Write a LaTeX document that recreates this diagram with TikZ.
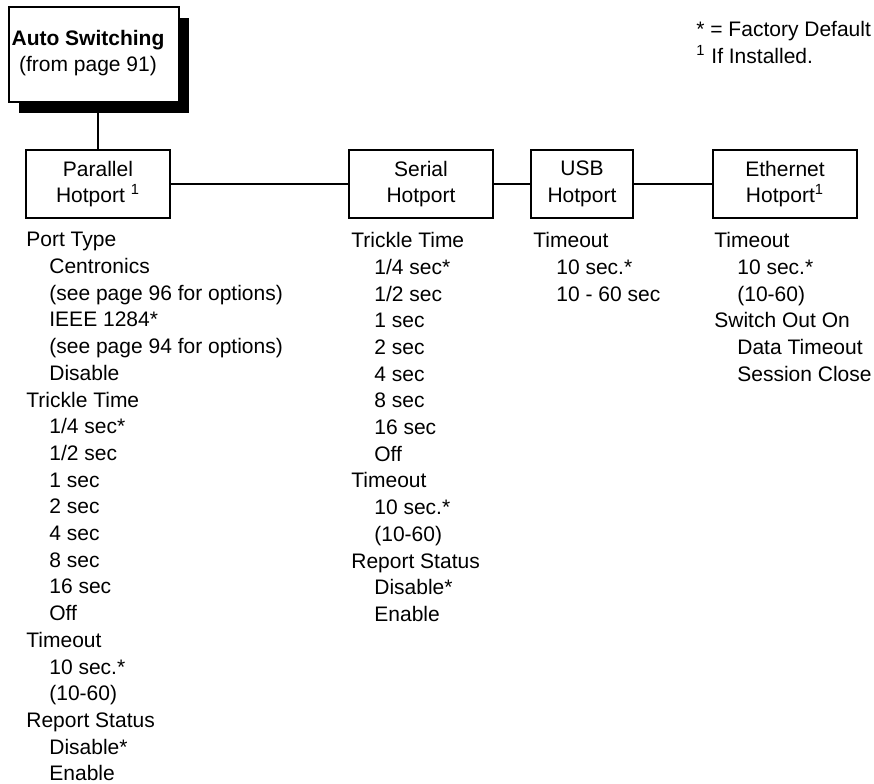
\documentclass[tikz,border=0pt]{standalone}
\usepackage{fontspec}
\setmainfont{Liberation Sans}
\usetikzlibrary{positioning}

\newcommand\optind{\hspace*{11.5pt}}

\begin{document}
\begin{tikzpicture}[
    x=0.5pt, y=-0.5pt,
    font=\fontsize{10.5}{13.35}\selectfont,
    node distance=19pt,
    menubox/.style={draw, fill=white, line width=1.1pt, minimum width=72pt,
                    minimum height=34pt, align=center, inner sep=0pt,
                    outer sep=0pt},
    titlebox/.style={draw, fill=white, line width=1.1pt, minimum width=85pt,
                     minimum height=47.5pt, inner sep=0pt},
    shadowbox/.style={fill=black, minimum width=85pt, minimum height=47.5pt,
                      inner sep=0pt, outer sep=0pt},
    optlist/.style={align=left, inner sep=0pt, anchor=north west},
    link/.style={line width=1.1pt},
]
\useasboundingbox (0,0) rectangle (874,783);

% === Title box with drop shadow ===
\node[shadowbox] (shadow) at (104,65.5) {};
\node[titlebox] (auto) at (94,54.5) {};
\node[align=center, inner sep=0pt] (autotitle) at (88,53)
     {\textbf{Auto Switching}\\(from page 91)};

% === Legend ===
\node[optlist] (legend) at (696,21)
     {* = Factory Default\\\textsuperscript{1} If Installed.};

% === Hotport boxes ===
\node[menubox] (par) at (98,184) {Parallel\\Hotport \textsuperscript{1}};
\node[menubox, right=89.5pt of par] (ser) {Serial\\Hotport};
\node[menubox, minimum width=51pt, right=19pt of ser] (usb) {USB\\Hotport};
\node[menubox, right=40pt of usb] (eth) {Ethernet\\Hotport\textsuperscript{1}};

% === Option lists ===
\node[optlist] (partxt) at ([yshift=-7pt]par.south west)
     {Port Type\\
      \optind Centronics\\
      \optind (see page 96 for options)\\
      \optind IEEE 1284*\\
      \optind (see page 94 for options)\\
      \optind Disable\\
      Trickle Time\\
      \optind 1/4 sec*\\
      \optind 1/2 sec\\
      \optind 1 sec\\
      \optind 2 sec\\
      \optind 4 sec\\
      \optind 8 sec\\
      \optind 16 sec\\
      \optind Off\\
      Timeout\\
      \optind 10 sec.*\\
      \optind (10-60)\\
      Report Status\\
      \optind Disable*\\
      \optind Enable};

\node[optlist] (sertxt) at ([xshift=1pt, yshift=-7pt]ser.south west)
     {Trickle Time\\
      \optind 1/4 sec*\\
      \optind 1/2 sec\\
      \optind 1 sec\\
      \optind 2 sec\\
      \optind 4 sec\\
      \optind 8 sec\\
      \optind 16 sec\\
      \optind Off\\
      Timeout\\
      \optind 10 sec.*\\
      \optind (10-60)\\
      Report Status\\
      \optind Disable*\\
      \optind Enable};

\node[optlist] (usbtxt) at ([xshift=1pt, yshift=-7pt]usb.south west)
     {Timeout\\
      \optind 10 sec.*\\
      \optind 10 - 60 sec};

\node[optlist] (ethtxt) at ([xshift=0.5pt, yshift=-7pt]eth.south west)
     {Timeout\\
      \optind 10 sec.*\\
      \optind (10-60)\\
      Switch Out On\\
      \optind Data Timeout\\
      \optind Session Close};

% === Connectors ===
\draw[link] (par.north) -- (par.north |- shadow.south);
\draw[link] (par) -- (ser);
\draw[link] (ser) -- (usb);
\draw[link] (usb) -- (eth);

\end{tikzpicture}
\end{document}
